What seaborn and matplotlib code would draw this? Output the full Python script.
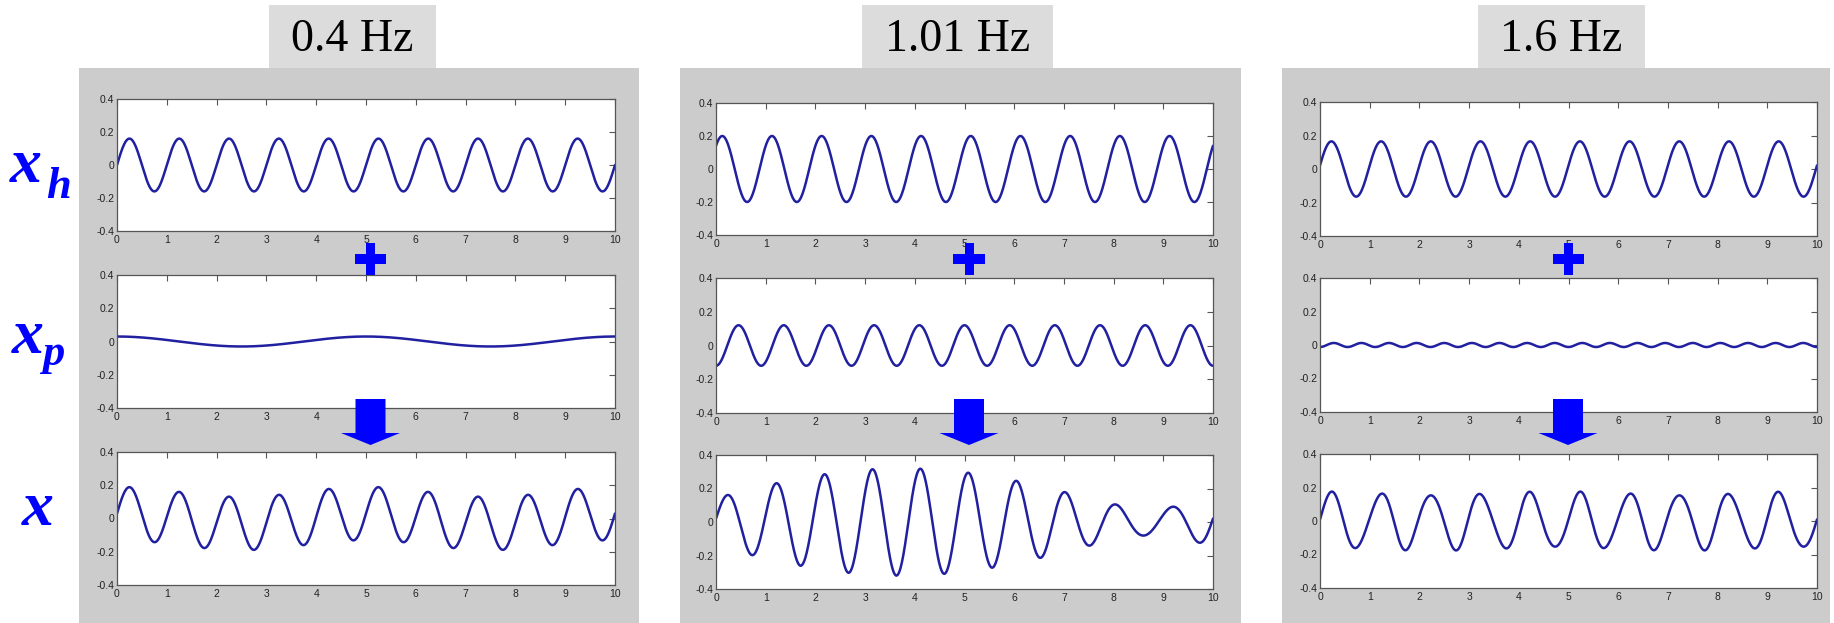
import matplotlib
matplotlib.use("Agg")
import numpy as np
import pandas as pd
import seaborn as sns
import matplotlib.pyplot as plt
from matplotlib.patches import Rectangle, Polygon

# ---------------- data ----------------
panel_titles = ["0.4 Hz", "1.01 Hz", "1.6 Hz"]

# homogeneous part x_h = A sin(2 pi f t + phi)
xh_amp = [0.16, 0.20, 0.165]
xh_freq = [1.0, 1.0, 1.0]
xh_phase = [0.0, 0.78, 0.13]
# particular part x_p = A cos(2 pi f t)
xp_amp = [0.03, -0.12, -0.012]
xp_freq = [0.2, 1.1, 1.8]

x_ticks = list(range(0, 11))
y_ticks = [-0.4, -0.2, 0.0, 0.2, 0.4]
y_tick_labels = ["-0.4", "-0.2", "0", "0.2", "0.4"]
t = np.linspace(0, 10, 2001)

# ---------------- layout (pixels) ----------------
W, H = 1834, 623
sns.set_style("white")
plt.rcParams["font.family"] = ["Liberation Sans", "DejaVu Sans"]

fig = plt.figure(figsize=(W / 100, H / 100), dpi=100)
fig.patch.set_facecolor("white")


def fx(x):
    return x / W


def fy(y):
    return 1 - y / H


panel_box = [(79, 68, 639, 623), (680, 68, 1241, 623), (1282, 68, 1830, 623)]
title_box = [(269, 5, 436, 68), (862, 5, 1053, 68), (1478, 5, 1645, 68)]
axes_lr = [(117, 615), (716, 1213), (1320, 1817)]
rows_tb = [
    [(99, 231), (275, 408), (452, 585)],
    [(103, 235), (278, 413), (455, 589)],
    [(102, 236), (278, 412), (454, 588)],
]
centers = [370.5, 969, 1568]

line_color = "#2020a0"
blue = "#0000ff"
serif = ["Liberation Serif", "DejaVu Serif"]

for p in range(3):
    l, tp, r, b = panel_box[p]
    fig.add_artist(Rectangle((fx(l), fy(b)), (r - l) / W, (b - tp) / H,
                             transform=fig.transFigure, facecolor="#cccccc",
                             edgecolor="none", zorder=-10))
    l, tp, r, b = title_box[p]
    fig.add_artist(Rectangle((fx(l), fy(b)), (r - l) / W, (b - tp) / H,
                             transform=fig.transFigure, facecolor="#dcdcdc",
                             edgecolor="none", zorder=-10))
    fig.text(fx((l + r) / 2), fy(40), panel_titles[p], ha="center", va="center",
             fontsize=33, family=serif, color="black")

    xh = xh_amp[p] * np.sin(2 * np.pi * xh_freq[p] * t + xh_phase[p])
    xp = xp_amp[p] * np.cos(2 * np.pi * xp_freq[p] * t)
    series = [xh, xp, xh + xp]

    L, R = axes_lr[p]
    for k in range(3):
        T, B = rows_tb[p][k]
        ax = fig.add_axes([fx(L), fy(B), (R - L) / W, (B - T) / H])
        ax.set_facecolor("white")
        df = pd.DataFrame({"t": t, "y": series[k]})
        sns.lineplot(data=df, x="t", y="y", ax=ax, color=line_color, lw=1.8)
        ax.set_xlim(0, 10)
        ax.set_ylim(-0.4, 0.4)
        ax.set_xticks(x_ticks)
        ax.set_xticklabels([str(v) for v in x_ticks])
        ax.set_yticks(y_ticks)
        ax.set_yticklabels(y_tick_labels)
        ax.set_xlabel("")
        ax.set_ylabel("")
        ax.tick_params(direction="in", top=True, right=True, length=4, width=0.8,
                       color="#555555", labelsize=7.5, labelcolor="#222222")
        ax.tick_params(axis="y", pad=2)
        ax.tick_params(axis="x", pad=3)
        for s in ax.spines.values():
            s.set_color("#555555")
            s.set_linewidth(0.9)
            s.set_visible(True)

    # plus sign
    c = centers[p]
    plus = [(c - 4.5, 243), (c + 4.5, 243), (c + 4.5, 254), (c + 15.5, 254),
            (c + 15.5, 264), (c + 4.5, 264), (c + 4.5, 275), (c - 4.5, 275),
            (c - 4.5, 264), (c - 15.5, 264), (c - 15.5, 254), (c - 4.5, 254)]
    fig.add_artist(Polygon([(fx(x), fy(y)) for x, y in plus], closed=True,
                           transform=fig.transFigure, facecolor=blue,
                           edgecolor="none", zorder=20))
    # down arrow
    arrow = [(c - 15, 399), (c + 15, 399), (c + 15, 433), (c + 29.5, 433),
             (c, 445), (c - 29.5, 433), (c - 15, 433)]
    fig.add_artist(Polygon([(fx(x), fy(y)) for x, y in arrow], closed=True,
                           transform=fig.transFigure, facecolor=blue,
                           edgecolor="none", zorder=20))

# left row labels x_h, x_p, x
serif_bi = dict(family=serif, fontweight="bold", fontstyle="italic", color=blue)
fig.text(fx(10), fy(182), "x", fontsize=46, va="baseline", ha="left", **serif_bi)
fig.text(fx(46), fy(198), "h", fontsize=32, va="baseline", ha="left", **serif_bi)
fig.text(fx(12), fy(353), "x", fontsize=46, va="baseline", ha="left", **serif_bi)
fig.text(fx(42), fy(365), "p", fontsize=32, va="baseline", ha="left", **serif_bi)
fig.text(fx(22), fy(525), "x", fontsize=46, va="baseline", ha="left", **serif_bi)

fig.savefig("out.png", dpi=100, facecolor="white")
